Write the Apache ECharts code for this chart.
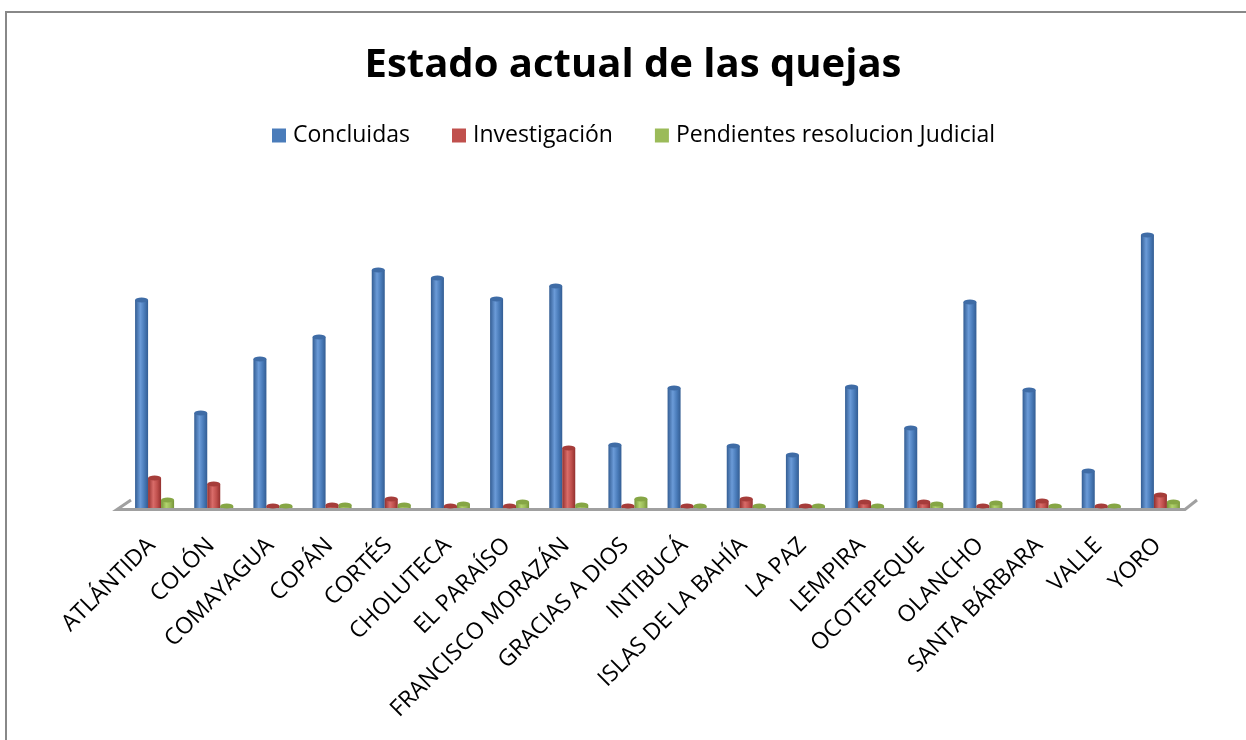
<!DOCTYPE html>
<html>
<head>
<meta charset="utf-8">
<script src="https://cdn.jsdelivr.net/npm/echarts@6/dist/echarts.min.js"></script>
<style>
  html, body { margin: 0; padding: 0; background: #ffffff; }
  #chart { width: 1246px; height: 740px; }
</style>
</head>
<body>
<div id="chart"></div>
<script>
// Departamentos y número de quejas por estado
const departamentos = [
  'ATLÁNTIDA', 'COLÓN', 'COMAYAGUA', 'COPÁN', 'CORTÉS', 'CHOLUTECA', 'EL PARAÍSO',
  'FRANCISCO MORAZÁN', 'GRACIAS A DIOS', 'INTIBUCÁ', 'ISLAS DE LA BAHÍA', 'LA PAZ',
  'LEMPIRA', 'OCOTEPEQUE', 'OLANCHO', 'SANTA BÁRBARA', 'VALLE', 'YORO'
];
const concluidas    = [208, 95, 149, 171, 238, 230, 209, 222, 63, 120, 62, 53, 121, 80, 206, 118, 37, 273];
const investigacion = [30, 24, 2, 3, 9, 2, 2, 60, 2, 2, 9, 2, 6, 6, 2, 7, 2, 13];
const pendientes    = [8, 2, 2, 3, 3, 4, 6, 3, 9, 2, 2, 2, 2, 4, 5, 2, 2, 6];
const nombresSeries = ['Concluidas', 'Investigación', 'Pendientes resolucion Judicial'];

const FONT = "'Open Sans', 'Noto Sans', sans-serif";
const BAR_W = 13;

// Colores por serie: [borde oscuro, tono base, brillo, tapa]
const paleta = [
  ['#335d93', '#4a7cba', '#6b9bd8', '#3f6ca6'],
  ['#93302e', '#c0504d', '#d96c69', '#a63d3a'],
  ['#769438', '#9bbb59', '#b3d46e', '#86a645']
];

function cilindro(p) {
  return new echarts.graphic.LinearGradient(0, 0, 1, 0, [
    { offset: 0, color: p[0] },
    { offset: 0.4, color: p[2] },
    { offset: 0.7, color: p[1] },
    { offset: 1, color: p[0] }
  ]);
}

const valores = [concluidas, investigacion, pendientes];

const series = [];
valores.forEach(function (datos, i) {
  series.push({
    name: nombresSeries[i],
    type: 'bar',
    data: datos,
    barWidth: BAR_W,
    barGap: '0%',
    itemStyle: { color: cilindro(paleta[i]) },
    z: 2
  });
});
// Tapas elípticas de los cilindros
valores.forEach(function (datos, i) {
  series.push({
    name: 'tapa-' + i,
    type: 'pictorialBar',
    data: datos,
    barWidth: BAR_W,
    barGap: '0%',
    symbol: 'circle',
    symbolSize: [BAR_W, 5],
    symbolPosition: 'end',
    symbolOffset: [0, '-50%'],
    itemStyle: { color: paleta[i][3] },
    z: 3,
    silent: true
  });
});

const chart = echarts.init(document.getElementById('chart'), null, { renderer: 'canvas' });

chart.setOption({
  animation: false,
  backgroundColor: '#ffffff',
  title: {
    text: 'Estado actual de las quejas',
    left: 628,
    textAlign: 'center',
    top: 41,
    textStyle: { fontFamily: FONT, fontSize: 40, fontWeight: 'bold', color: '#000000' }
  },
  legend: {
    left: 267,
    top: 119,
    icon: 'rect',
    itemWidth: 14,
    itemHeight: 14,
    itemGap: 42,
    textStyle: { fontFamily: FONT, fontSize: 23, color: '#000000', padding: [0, 0, 0, 2] },
    data: nombresSeries.map(function (n, i) {
      return { name: n, itemStyle: { color: paleta[i][1] } };
    })
  },
  grid: { left: 125, right: 56, top: 228, bottom: 232, containLabel: false },
  xAxis: {
    type: 'category',
    data: departamentos,
    axisLine: { show: false },
    axisTick: { show: false },
    axisLabel: {
      interval: 0,
      rotate: 45,
      margin: 31,
      padding: [0, 4, 0, 0],
      fontFamily: FONT,
      fontSize: 23,
      color: '#000000'
    }
  },
  yAxis: {
    type: 'value',
    min: 0,
    max: 280,
    show: false,
    splitLine: { show: false }
  },
  series: series
});

// Marco del gráfico y piso en perspectiva
const rect = chart.getModel().getComponent('grid').coordinateSystem.getRect();
const L = rect.x, R = rect.x + rect.width, B = rect.y + rect.height;
chart.setOption({
  graphic: [
    {
      type: 'rect',
      shape: { x: 6, y: 12, width: 1300, height: 800 },
      style: { fill: 'none', stroke: '#888888', lineWidth: 2 },
      silent: true,
      z: 0
    },
    {
      type: 'polyline',
      shape: { points: [[L + 6, B - 8], [L - 8, B + 1.5], [R - 5, B + 1.5], [R + 7, B - 8]] },
      style: { fill: 'none', stroke: '#a0a0a0', lineWidth: 3 },
      silent: true,
      z: 1
    }
  ]
});
</script>
</body>
</html>
